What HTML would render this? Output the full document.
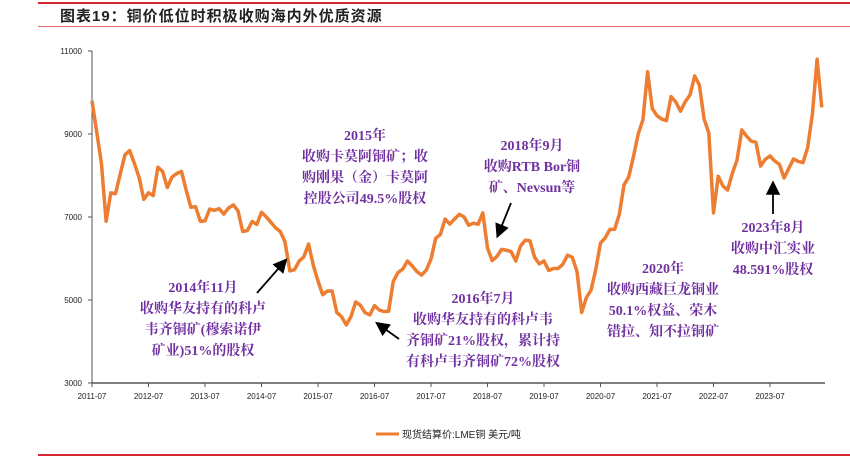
<!DOCTYPE html>
<html><head><meta charset="utf-8">
<style>
body{margin:0;background:#fff;width:850px;height:457px;overflow:hidden;position:relative;font-family:"Liberation Sans","Noto Sans CJK SC",sans-serif}
.title{position:absolute;left:60px;top:5px;font-size:15px;font-weight:bold;color:#222;letter-spacing:1px;font-family:"Liberation Sans","Noto Sans CJK SC",sans-serif}
</style></head><body>
<div style="position:absolute;left:38px;top:2px;width:812px;height:2px;background:#d7282f"></div>
<div class="title">图表19：铜价低位时积极收购海内外优质资源</div>
<div style="position:absolute;left:38px;top:26px;width:812px;height:1px;background:#e07070"></div>
<div style="position:absolute;left:38px;top:454px;width:812px;height:2px;background:#d7282f"></div>
<svg id="chart" width="850" height="457" style="position:absolute;left:0;top:0">
<defs><marker id="ah" markerWidth="8" markerHeight="8" refX="6" refY="4" orient="auto"><path d="M0,0 L8,4 L0,8 z" fill="#000"/></marker></defs>
</svg>
<script>
const yTicks=[3000,5000,7000,9000,11000];
const xLabels=['2011-07','2012-07','2013-07','2014-07','2015-07','2016-07','2017-07','2018-07','2019-07','2020-07','2021-07','2022-07','2023-07'];
const prices2011=[9800,9050,8300,6900,7581,7565];
const prices2012=[8040,8500,8600,8289,7955,7423,7584,7515,8200,8100,7711,7961];
const prices2013=[8047,8100,7645,7234,7250,6900,6907,7192,7159,7203,7071,7215];
const prices2014=[7291,7149,6650,6674,6891,6821,7113,7002,6872,6737,6650,6400];
const prices2015=[5700,5729,5940,6042,6350,5833,5457,5127,5217,5216,4700,4600];
const prices2016=[4400,4599,4954,4873,4695,4642,4864,4760,4723,4731,5450,5660];
const prices2017=[5745,5941,5821,5684,5600,5720,5985,6487,6580,6950,6830,6950];
const prices2018=[7066,7003,6800,6850,6825,7100,6250,5950,6050,6220,6200,6170];
const prices2019=[5940,6300,6440,6430,6030,5870,5940,5710,5760,5760,5860,6080];
const prices2020=[6030,5690,4700,5060,5240,5740,6370,6500,6700,6700,7060,7770];
const prices2021=[7970,8460,9000,9340,10500,9610,9440,9360,9320,9900,9770,9550];
const prices2022=[9780,9940,10400,10180,9360,9030,7100,7980,7750,7650,8050,8370];
const prices2023=[9100,8950,8830,8800,8230,8390,8470,8350,8270,7940,8170,8400];
const prices2024=[8340,8310,8680,9480,10800,9640];
const prices=[].concat(prices2011,prices2012,prices2013,prices2014,prices2015,prices2016,prices2017,prices2018,prices2019,prices2020,prices2021,prices2022,prices2023,prices2024);
const svg=document.getElementById('chart');
const NS='http://www.w3.org/2000/svg';
const x0=92,pxYear=56.5,yBase=383,yTop=51;
function xs(i){return x0+i*pxYear/12;}
function ys(v){return yBase-(v-3000)/8000*(yBase-yTop);}
function mk(t,a){const e=document.createElementNS(NS,t);for(const k in a)e.setAttribute(k,a[k]);svg.appendChild(e);return e;}
let ax=mk('line',{x1:x0,y1:yTop,x2:x0,y2:yBase,stroke:'#555','stroke-width':1});


let bx=mk('line',{x1:x0,y1:yBase,x2:825,y2:yBase,stroke:'#555','stroke-width':1.5});


yTicks.forEach(v=>{
 let t=mk('line',{x1:x0-4,y1:ys(v),x2:x0,y2:ys(v),stroke:'#555'});
 
 
 let l=mk('text',{x:x0-10,y:ys(v)+3,'text-anchor':'end','font-size':8,fill:'#222','font-family':'Liberation Sans'});
 l.textContent=v;
 
 
});
xLabels.forEach((s,i)=>{
 const x=x0+i*pxYear;
 let t=mk('line',{x1:x,y1:yBase,x2:x,y2:yBase+4,stroke:'#555'});
 
 
 let l=mk('text',{x:x,y:yBase+16,'text-anchor':'middle','font-size':8,fill:'#222','font-family':'Liberation Sans'});
 l.textContent=s;
 
 
});
let d=prices.map((v,i)=>(i?'L':'M')+xs(i).toFixed(1)+','+ys(v).toFixed(1)).join(' ');
let p=mk('path',{d:d,fill:'none',stroke:'#ED7D31','stroke-width':3.5,'stroke-linejoin':'round'});


const notes=[
 [365,140,['2015年','收购卡莫阿铜矿；收','购刚果（金）卡莫阿','控股公司49.5%股权']],
 [532,150,['2018年9月','收购RTB Bor铜','矿、Nevsun等']],
 [203,292,['2014年11月','收购华友持有的科卢','韦齐铜矿(穆索诺伊','矿业)51%的股权']],
 [483,303,['2016年7月','收购华友持有的科卢韦','齐铜矿21%股权，累计持','有科卢韦齐铜矿72%股权']],
 [663,273,['2020年','收购西藏巨龙铜业','50.1%权益、荣木','错拉、知不拉铜矿']],
 [773,232,['2023年8月','收购中汇实业','48.591%股权']]
];
notes.forEach(n=>{
 n[2].forEach((s,j)=>{
  let t=mk('text',{x:n[0],y:n[1]+j*21,'text-anchor':'middle','font-size':14,fill:'#7030A0','font-weight':'bold','font-family':'Liberation Serif,Noto Serif CJK SC,serif'});
  t.textContent=s;
  
  
 });
});
[[257,293,285,261],[511,203,498,235],[399,339,378,324],[773,214,773,184]].forEach(a=>{
 let l=mk('line',{x1:a[0],y1:a[1],x2:a[2],y2:a[3],stroke:'#000','stroke-width':1.8,'marker-end':'url(#ah)'});
 
 
});
let lg=mk('line',{x1:376,y1:434,x2:399,y2:434,stroke:'#ED7D31','stroke-width':3});


let lt=mk('text',{x:402,y:438,'font-size':10,fill:'#222','font-family':'Liberation Sans,Noto Sans CJK SC,sans-serif'});
lt.textContent='现货结算价:LME铜 美元/吨';


</script>
</body></html>
